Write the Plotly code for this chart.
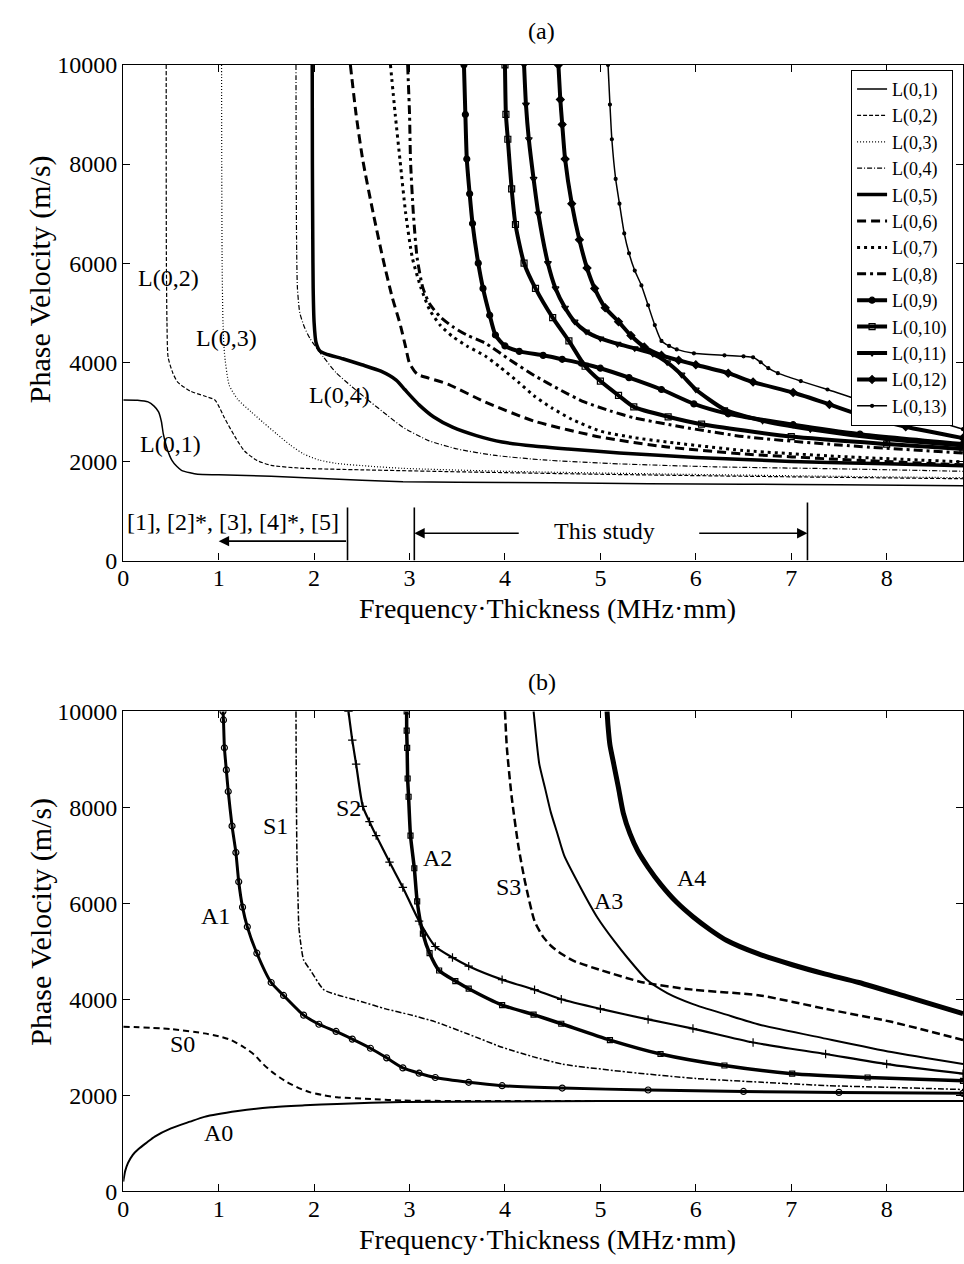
import plotly.graph_objects as go

# ---------------- Panel (a): L(0,n) modes ----------------
L01_fd = [0, 0.15, 0.26, 0.32, 0.37, 0.40, 0.42, 0.46, 0.51, 0.56, 0.61, 0.7, 0.78, 1.0, 1.55, 2.5, 2.93, 3.5, 4.5, 5.5, 6.5, 7.5, 8.8]
L01_vp = [3240, 3235, 3200, 3120, 3000, 2800, 2550, 2250, 2020, 1900, 1820, 1770, 1740, 1730, 1700, 1620, 1590, 1580, 1570, 1550, 1540, 1530, 1510]
L02_fd = [0.45, 0.45, 0.452, 0.458, 0.47, 0.52, 0.57, 0.7, 0.85, 0.96, 1.01, 1.06, 1.17, 1.27, 1.4, 1.55, 1.89, 2.5, 3.5, 5, 6.5, 8.8]
L02_vp = [10000, 8000, 6000, 4800, 4100, 3780, 3600, 3420, 3320, 3240, 3080, 2880, 2500, 2210, 2020, 1920, 1860, 1830, 1790, 1740, 1700, 1650]
L03_fd = [1.03, 1.032, 1.036, 1.045, 1.06, 1.11, 1.2, 1.34, 1.47, 1.61, 1.75, 1.89, 2.05, 2.23, 2.6, 2.93, 4, 5.5, 7, 8.8]
L03_vp = [10000, 8000, 6000, 4800, 4190, 3540, 3250, 3000, 2780, 2550, 2330, 2150, 2030, 1960, 1900, 1860, 1800, 1750, 1710, 1670]
L04_fd = [1.81, 1.812, 1.816, 1.825, 1.85, 1.9, 1.96, 2.1, 2.23, 2.4, 2.59, 2.76, 2.93, 3.2, 3.5, 3.9, 4.4, 5.2, 6.2, 7.5, 8.8]
L04_vp = [10000, 8000, 6500, 5500, 5000, 4700, 4470, 4100, 3790, 3500, 3200, 2940, 2690, 2420, 2250, 2120, 2030, 1950, 1890, 1850, 1800]
L05_fd = [1.98, 1.982, 1.986, 1.99, 2.0, 2.02, 2.06, 2.12, 2.3, 2.5, 2.7, 2.86, 2.95, 3.03, 3.1, 3.25, 3.45, 3.7, 3.97, 4.3, 4.66, 5.2, 6, 7, 8, 8.8]
L05_vp = [10000, 8000, 6500, 5500, 4800, 4400, 4230, 4170, 4070, 3950, 3820, 3640, 3450, 3280, 3140, 2900, 2690, 2520, 2390, 2310, 2250, 2170, 2080, 2000, 1950, 1910]
L06_fd = [2.38, 2.44, 2.51, 2.62, 2.72, 2.82, 2.9, 2.96, 3.0, 3.08, 3.2, 3.4, 3.79, 4.31, 5.0, 5.7, 6.5, 7.5, 8.8]
L06_vp = [10000, 9000, 8080, 7000, 6100, 5300, 4780, 4300, 3980, 3760, 3680, 3560, 3200, 2810, 2490, 2290, 2150, 2040, 1930]
L07_fd = [2.8, 2.85, 2.9, 2.96, 3.03, 3.12, 3.21, 3.32, 3.45, 3.6, 3.79, 3.95, 4.14, 4.3, 4.49, 4.7, 5.0, 5.35, 5.7, 6.5, 7.5, 8.8]
L07_vp = [10000, 9000, 8080, 7000, 6100, 5500, 5060, 4750, 4520, 4330, 4130, 3900, 3600, 3330, 3080, 2850, 2610, 2480, 2390, 2220, 2100, 1990]
L08_fd = [2.98, 3.0, 3.01, 3.04, 3.08, 3.14, 3.21, 3.32, 3.45, 3.6, 3.79, 4.05, 4.31, 4.59, 4.83, 5.1, 5.35, 5.87, 6.5, 7.5, 8.8]
L08_vp = [10000, 9000, 8080, 7000, 6100, 5500, 5180, 4920, 4720, 4550, 4390, 4050, 3730, 3430, 3200, 3020, 2880, 2690, 2500, 2330, 2170]
L09_fd = [3.57, 3.585, 3.6, 3.63, 3.66, 3.72, 3.77, 3.84, 3.9, 4.0, 4.15, 4.4, 4.6, 4.8, 5.0, 5.3, 5.64, 5.98, 6.34, 7.02, 7.72, 8.8]
L09_vp = [10000, 9000, 8100, 7400, 6800, 6000, 5490, 4950, 4550, 4330, 4220, 4140, 4060, 3980, 3880, 3690, 3450, 3160, 2960, 2740, 2550, 2350]
L10_fd = [4.0, 4.01, 4.03, 4.07, 4.11, 4.2, 4.32, 4.5, 4.67, 4.84, 5.0, 5.19, 5.35, 5.71, 6.06, 7.0, 8.0, 8.8]
L10_vp = [10000, 9000, 8500, 7500, 6780, 6000, 5490, 4900, 4430, 3920, 3620, 3330, 3100, 2900, 2750, 2500, 2350, 2250]
L11_fd = [4.2, 4.22, 4.25, 4.3, 4.35, 4.45, 4.53, 4.63, 4.73, 4.85, 5.0, 5.18, 5.36, 5.55, 5.7, 5.85, 6.0, 6.3, 6.7, 7.2, 8.0, 8.8]
L11_vp = [10000, 9200, 8500, 7700, 7000, 6000, 5490, 5100, 4820, 4620, 4480, 4370, 4280, 4170, 4000, 3750, 3450, 3050, 2820, 2650, 2450, 2320]
L12_fd = [4.56, 4.58, 4.6, 4.63, 4.7, 4.78, 4.86, 4.94, 5.05, 5.19, 5.32, 5.46, 5.64, 5.82, 6.0, 6.34, 6.6, 7.02, 7.4, 7.72, 8.2, 8.8]
L12_vp = [10000, 9300, 8800, 8100, 7200, 6470, 5900, 5490, 5100, 4820, 4540, 4310, 4140, 4040, 3950, 3780, 3600, 3390, 3150, 2940, 2700, 2470]
L13_fd = [5.08, 5.1, 5.12, 5.16, 5.2, 5.25, 5.3, 5.36, 5.43, 5.5, 5.57, 5.64, 5.72, 5.8, 5.98, 6.3, 6.5, 6.6, 6.68, 6.76, 6.86, 7.1, 7.38, 7.7, 8.06, 8.4, 8.8]
L13_vp = [10000, 9200, 8500, 7700, 7200, 6600, 6200, 5850, 5550, 5150, 4750, 4430, 4330, 4260, 4180, 4140, 4120, 4100, 4000, 3880, 3780, 3620, 3450, 3250, 3060, 2880, 2650]

mode_names_a = ["L(0,1)", "L(0,2)", "L(0,3)", "L(0,4)", "L(0,5)", "L(0,6)", "L(0,7)",
                "L(0,8)", "L(0,9)", "L(0,10)", "L(0,11)", "L(0,12)", "L(0,13)"]
mode_data_a = [(L01_fd, L01_vp), (L02_fd, L02_vp), (L03_fd, L03_vp), (L04_fd, L04_vp),
               (L05_fd, L05_vp), (L06_fd, L06_vp), (L07_fd, L07_vp), (L08_fd, L08_vp),
               (L09_fd, L09_vp), (L10_fd, L10_vp), (L11_fd, L11_vp), (L12_fd, L12_vp),
               (L13_fd, L13_vp)]

# curve labels inside panel (a)
labels_a_text = ["L(0,2)", "L(0,3)", "L(0,4)", "L(0,1)"]
labels_a_fd = [0.47, 1.08, 2.27, 0.49]
labels_a_vp = [5710, 4490, 3340, 2350]

# literature / this study ranges (MHz·mm)
prior_limit = 2.35
prior_arrow_end = 1.0
study_range = [3.05, 7.17]
study_arrow_inner = [4.16, 6.02]

# ---------------- Panel (b): Lamb modes ----------------
A0_fd = [0, 0.02, 0.05, 0.1, 0.16, 0.25, 0.33, 0.5, 0.7, 0.85, 1.2, 1.55, 1.9, 2.24, 2.93, 3.98, 5, 6, 7, 8.8]
A0_vp = [200, 420, 590, 760, 880, 1020, 1140, 1310, 1450, 1550, 1670, 1750, 1790, 1820, 1860, 1870, 1880, 1880, 1880, 1880]
S0_fd = [0, 0.5, 0.85, 1.0, 1.13, 1.25, 1.37, 1.46, 1.55, 1.64, 1.72, 1.84, 1.96, 2.1, 2.24, 2.6, 2.93, 4, 6, 8.8]
S0_vp = [3430, 3380, 3290, 3230, 3150, 3020, 2850, 2660, 2500, 2370, 2270, 2150, 2060, 2000, 1960, 1920, 1890, 1880, 1880, 1880]
A1_fd = [1.045, 1.05, 1.06, 1.08, 1.1, 1.14, 1.18, 1.21, 1.25, 1.3, 1.4, 1.55, 1.68, 1.89, 2.05, 2.23, 2.4, 2.59, 2.76, 2.93, 3.1, 3.27, 3.62, 3.97, 4.6, 5.5, 6.5, 7.5, 8.8]
A1_vp = [10000, 9820, 9240, 8780, 8330, 7610, 7060, 6450, 5920, 5510, 4960, 4350, 4080, 3670, 3480, 3330, 3170, 2980, 2780, 2570, 2460, 2370, 2270, 2200, 2150, 2110, 2080, 2060, 2040]
S1_fd = [1.81, 1.812, 1.815, 1.82, 1.83, 1.84, 1.86, 1.89, 1.96, 2.1, 2.23, 2.5, 2.75, 3.0, 3.27, 3.62, 3.97, 4.3, 4.6, 5.3, 6.0, 6.7, 7.4, 8.1, 8.8]
S1_vp = [10000, 9000, 8000, 7000, 6200, 5510, 5160, 4820, 4610, 4200, 4100, 3950, 3800, 3680, 3530, 3270, 3000, 2800, 2650, 2480, 2350, 2270, 2200, 2160, 2120]
S2_fd = [2.36, 2.4, 2.44, 2.51, 2.58, 2.65, 2.79, 2.93, 3.1, 3.27, 3.45, 3.62, 3.97, 4.31, 4.59, 5.0, 5.5, 5.97, 6.6, 7.36, 8.0, 8.8]
S2_vp = [10000, 9400, 8900, 8020, 7700, 7410, 6860, 6330, 5630, 5100, 4870, 4690, 4410, 4200, 4000, 3800, 3580, 3390, 3100, 2860, 2650, 2450]
A2_fd = [2.97, 2.97, 2.975, 2.98, 2.99, 3.01, 3.05, 3.08, 3.14, 3.21, 3.31, 3.48, 3.62, 3.97, 4.3, 4.59, 5.1, 5.63, 6.3, 7.01, 7.8, 8.8]
A2_vp = [10000, 9600, 9240, 8600, 8220, 7410, 6730, 6040, 5370, 4960, 4600, 4380, 4220, 3880, 3680, 3490, 3150, 2860, 2620, 2450, 2370, 2300]
S3_fd = [4.0, 4.02, 4.07, 4.14, 4.21, 4.31, 4.4, 4.49, 4.59, 4.72, 5.0, 5.45, 5.97, 6.67, 7.36, 8.05, 8.8]
S3_vp = [10000, 9240, 8220, 7200, 6450, 5630, 5300, 5100, 4950, 4800, 4610, 4350, 4200, 4080, 3800, 3530, 3150]
A3_fd = [4.3, 4.33, 4.36, 4.42, 4.48, 4.55, 4.62, 4.8, 4.97, 5.15, 5.29, 5.49, 5.7, 5.97, 6.32, 6.67, 7.36, 8.05, 8.8]
A3_vp = [10000, 9400, 8900, 8400, 7900, 7450, 7000, 6300, 5700, 5200, 4850, 4400, 4130, 3900, 3680, 3470, 3180, 2900, 2650]
A4_fd = [5.07, 5.08, 5.1, 5.14, 5.19, 5.24, 5.31, 5.39, 5.5, 5.63, 5.8, 5.97, 6.15, 6.32, 6.65, 7.01, 7.35, 7.71, 8.2, 8.8]
A4_vp = [10000, 9700, 9300, 8900, 8400, 7880, 7450, 7100, 6750, 6400, 6020, 5720, 5450, 5230, 4950, 4720, 4530, 4350, 4060, 3700]

mode_names_b = ["A0", "S0", "A1", "S1", "S2", "A2", "S3", "A3", "A4"]
mode_data_b = [(A0_fd, A0_vp), (S0_fd, S0_vp), (A1_fd, A1_vp), (S1_fd, S1_vp), (S2_fd, S2_vp),
               (A2_fd, A2_vp), (S3_fd, S3_vp), (A3_fd, A3_vp), (A4_fd, A4_vp)]
labels_b_fd = [1.0, 0.62, 0.97, 1.6, 2.36, 3.29, 4.04, 5.08, 5.96]
labels_b_vp = [1220, 3060, 5730, 7610, 7980, 6940, 6350, 6040, 6530]

x_ticks = [0, 1, 2, 3, 4, 5, 6, 7, 8]
y_ticks = [0, 2000, 4000, 6000, 8000, 10000]

# ---------------- styles ----------------
FONT = "Liberation Serif"
K = "black"
styles_a = [
    dict(width=1.5, dash="solid"),
    dict(width=1.2, dash="4px,2px"),
    dict(width=1.2, dash="1px,2px"),
    dict(width=1.2, dash="5px,2px,1px,2px"),
    dict(width=3.5, dash="solid"),
    dict(width=3, dash="9px,5px"),
    dict(width=3, dash="3px,4px"),
    dict(width=3, dash="9px,4px,3px,4px"),
    dict(width=4, dash="solid", marker="circle", msize=6),
    dict(width=4, dash="solid", marker="square-open", msize=6),
    dict(width=4, dash="solid", marker="triangle-down-open", msize=6),
    dict(width=4, dash="solid", marker="diamond", msize=6),
    dict(width=1.5, dash="solid", marker="circle", msize=3),
]
styles_b = [
    dict(width=2, dash="solid"),
    dict(width=2, dash="6px,4px"),
    dict(width=3, dash="solid", marker="circle-open", msize=6),
    dict(width=1.5, dash="6px,2px,2px,2px"),
    dict(width=2.2, dash="solid", marker="cross-thin-open", msize=6),
    dict(width=3.5, dash="solid", marker="square-open", msize=5),
    dict(width=2.5, dash="8px,4px"),
    dict(width=2, dash="solid"),
    dict(width=5, dash="solid"),
]

fig = go.Figure()

def add_curve(name, data, st, xa, ya, legend):
    fd, vp = data
    kw = dict(x=fd, y=vp, name=name, xaxis=xa, yaxis=ya, showlegend=legend,
              line=dict(color=K, width=st["width"], dash=st["dash"], shape="spline", smoothing=0.6),
              hoverinfo="skip")
    if "marker" in st:
        kw["mode"] = "lines+markers"
        kw["marker"] = dict(symbol=st["marker"], size=st["msize"], color=K,
                            line=dict(color=K, width=1.2))
    else:
        kw["mode"] = "lines"
    fig.add_trace(go.Scatter(**kw))

for n, d, s in zip(mode_names_a, mode_data_a, styles_a):
    add_curve(n, d, s, "x", "y", True)
for n, d, s in zip(mode_names_b, mode_data_b, styles_b):
    add_curve(n, d, s, "x2", "y2", False)

W, H = 964, 1264
def px(v):
    return v / W
def py(v):
    return 1 - v / H

axis_common = dict(showline=True, mirror="ticks", linecolor=K, linewidth=1.2, ticks="inside",
                   ticklen=7, tickcolor=K, showgrid=False, zeroline=False,
                   tickfont=dict(family=FONT, size=24, color=K))
y_ticktext = [str(v) for v in y_ticks]
fig.update_layout(
    width=W, height=H, margin=dict(l=0, r=0, t=0, b=0),
    paper_bgcolor="white", plot_bgcolor="white",
    font=dict(family=FONT, color=K),
    xaxis=dict(domain=[px(118), px(963)], range=[0, 8.8], tickvals=x_ticks, anchor="y",
               ticklabelstandoff=-4, **axis_common),
    yaxis=dict(domain=[py(559), py(53)], range=[0, 10000], tickvals=y_ticks, ticktext=y_ticktext,
               anchor="x", **axis_common),
    xaxis2=dict(domain=[px(118), px(963)], range=[0, 8.8], tickvals=x_ticks, anchor="y2",
                ticklabelstandoff=-4, **axis_common),
    yaxis2=dict(domain=[py(1203), py(713)], range=[0, 10000], tickvals=y_ticks, ticktext=y_ticktext,
                anchor="x2", **axis_common),
    legend=dict(x=px(953), xanchor="right", y=py(58), yanchor="top", bgcolor="white",
                bordercolor=K, borderwidth=1, font=dict(family=FONT, size=18, color=K),
                tracegroupgap=0, itemwidth=30),
    showlegend=True,
)

ann = []
def paper_text(t, x, y, size, angle=0):
    ann.append(dict(text=t, x=px(x), y=py(y), xref="paper", yref="paper", showarrow=False,
                    font=dict(family=FONT, size=size, color=K), textangle=angle,
                    xanchor="center", yanchor="middle"))

paper_text("(a)", 539, 18, 24)
paper_text("(b)", 539, 683, 24)
paper_text("Phase Velocity (m/s)", 35, 272, 30, -90)
paper_text("Phase Velocity (m/s)", 35, 928, 30, -90)
paper_text("Frequency·Thickness (MHz·mm)", 545, 608, 28)
paper_text("Frequency·Thickness (MHz·mm)", 545, 1252, 28)

for t, xv, yv in zip(labels_a_text, labels_a_fd, labels_a_vp):
    ann.append(dict(text=t, x=xv, y=yv, xref="x", yref="y", showarrow=False,
                    font=dict(family=FONT, size=24, color=K)))
for t, xv, yv in zip(mode_names_b, labels_b_fd, labels_b_vp):
    ann.append(dict(text=t, x=xv, y=yv, xref="x2", yref="y2", showarrow=False,
                    font=dict(family=FONT, size=24, color=K)))

ann.append(dict(text="[1], [2]*, [3], [4]*, [5]", x=1.15, y=770, xref="x", yref="y", showarrow=False,
                font=dict(family=FONT, size=24, color=K)))
ann.append(dict(text="This study", x=5.04, y=590, xref="x", yref="y", showarrow=False,
                font=dict(family=FONT, size=24, color=K)))

def arrow(x_head, x_tail, yv):
    ann.append(dict(text="", x=x_head, y=yv, ax=x_tail, ay=yv, xref="x", yref="y",
                    axref="x", ayref="y", showarrow=True, arrowhead=2, arrowsize=1.3,
                    arrowwidth=1.6, arrowcolor=K, standoff=0, startstandoff=0))

arrow(prior_arrow_end, prior_limit, 390)
arrow(study_range[0], study_arrow_inner[0], 550)
arrow(study_range[1], study_arrow_inner[1], 550)

shapes = []
for xv, top in [(prior_limit, 1070), (study_range[0], 1070), (study_range[1], 1170)]:
    shapes.append(dict(type="line", xref="x", yref="y", x0=xv, x1=xv, y0=0, y1=top,
                       line=dict(color=K, width=1.6)))

fig.update_layout(annotations=ann, shapes=shapes)
fig.write_html("out.html")
